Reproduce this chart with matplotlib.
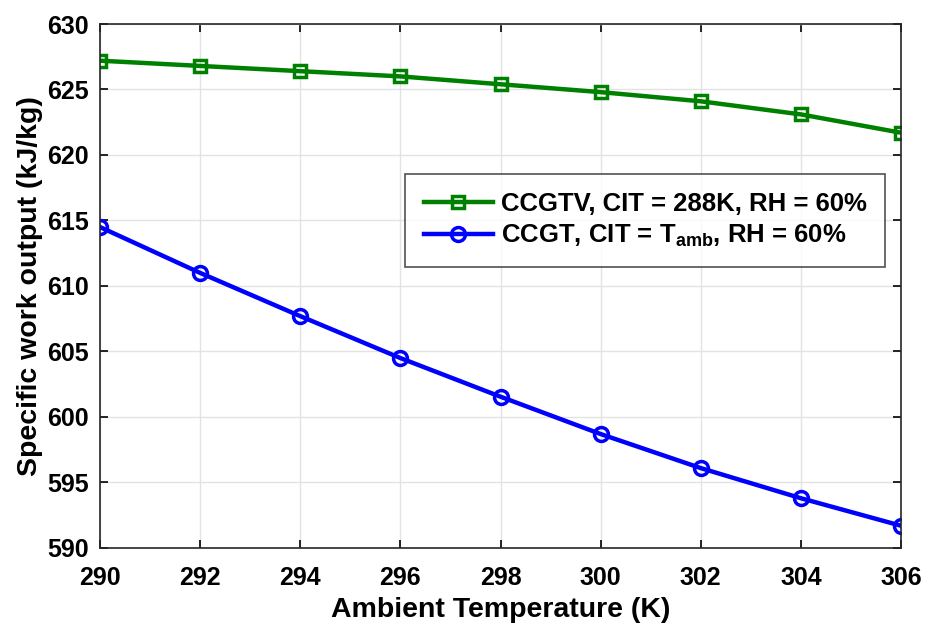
import matplotlib
matplotlib.use("Agg")
import matplotlib.pyplot as plt

# 环境温度 (K)
temps = [290, 292, 294, 296, 298, 300, 302, 304, 306]
# 比功 (kJ/kg)
ccgtv_work = [627.2, 626.8, 626.4, 626.0, 625.4, 624.8, 624.1, 623.1, 621.7]
ccgt_work = [614.5, 611.0, 607.7, 604.5, 601.55, 598.7, 596.1, 593.8, 591.7]

ccgtv_label = "CCGTV, CIT = 288K, RH = 60%"
ccgt_label = r"CCGT, CIT = T$_{\mathbf{amb}}$, RH = 60%"
x_ticks = list(range(290, 307, 2))
y_ticks = list(range(590, 631, 5))

plt.rcParams["font.family"] = ["Liberation Sans", "DejaVu Sans"]
plt.rcParams["font.weight"] = "bold"
plt.rcParams["mathtext.fontset"] = "custom"
plt.rcParams["mathtext.rm"] = "Liberation Sans:bold"
plt.rcParams["mathtext.bf"] = "Liberation Sans:bold"
plt.rcParams["mathtext.it"] = "Liberation Sans:bold"

fig = plt.figure(figsize=(9.36, 6.28), dpi=100)
ax = fig.add_axes([100 / 936, 80 / 628, 801 / 936, 524 / 628])

ax.plot(temps, ccgtv_work, color="#008000", lw=3.2, marker="s", ms=9,
        mew=2.5, mfc="none", label=ccgtv_label)
ax.plot(temps, ccgt_work, color="#0000ff", lw=3.2, marker="o", ms=10,
        mew=2.5, mfc="none", label=ccgt_label)

ax.set_xlim(290, 306)
ax.set_ylim(590, 630)
ax.set_xticks(x_ticks)
ax.set_yticks(y_ticks)
ax.tick_params(direction="in", top=True, right=True, labelsize=18, length=6,
               width=1.2)
ax.tick_params(axis="x", pad=13)
ax.tick_params(axis="y", pad=8)
ax.grid(True, color="#e3e3e3", lw=1)
ax.set_axisbelow(True)
for sp in ax.spines.values():
    sp.set_linewidth(1.2)
    sp.set_color("#262626")

ax.set_xlabel("Ambient Temperature (K)", fontsize=20.5, fontweight="bold",
              labelpad=5)
ax.set_ylabel("Specific work output (kJ/kg)", fontsize=20.5, fontweight="bold",
              labelpad=3)

leg = ax.legend(loc="upper right", bbox_to_anchor=(0.98, 0.714), fontsize=18.5,
                frameon=True, fancybox=False, edgecolor="#262626",
                borderaxespad=0, handlelength=2.7, handletextpad=0.3,
                borderpad=0.72, labelspacing=0.25)
leg.get_frame().set_linewidth(1.2)

fig.savefig("out.png", dpi=100)
